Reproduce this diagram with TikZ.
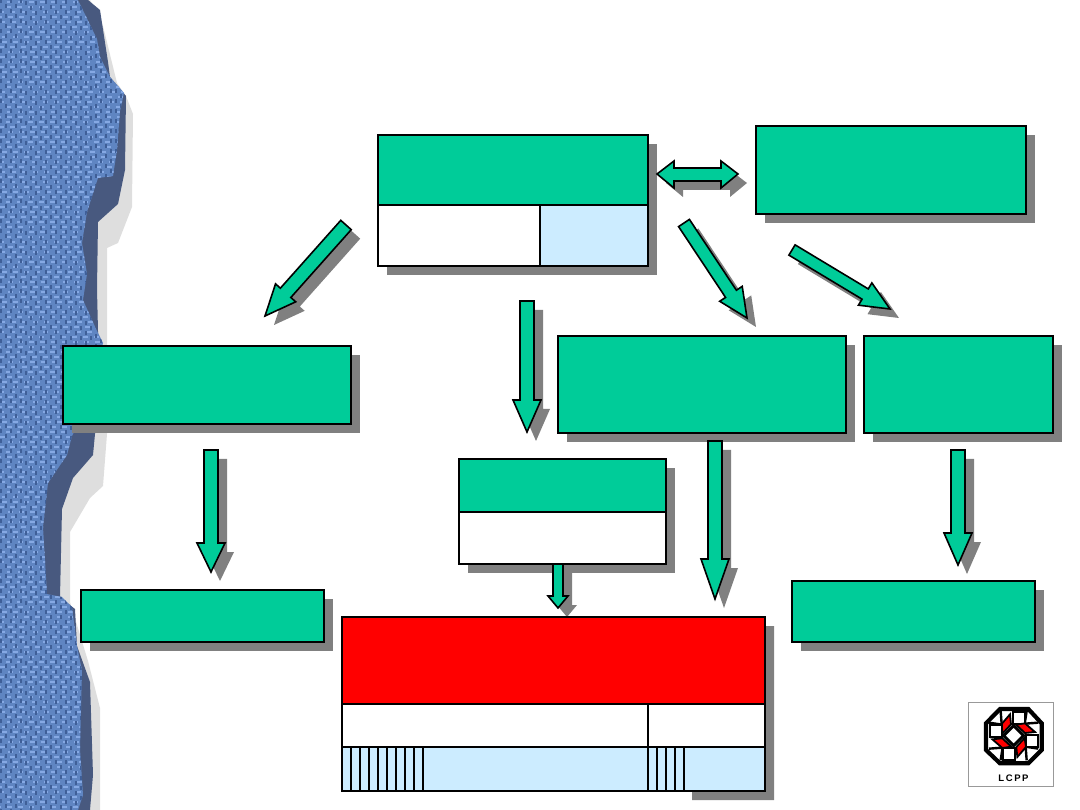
\documentclass[tikz,border=0pt]{standalone}
\usepackage{fontspec}
\setsansfont{Liberation Sans}
\usetikzlibrary{positioning, calc, shadows}

\definecolor{slidegreen}{HTML}{00CC99}
\definecolor{cellblue}{HTML}{CCECFF}
\definecolor{shadegray}{HTML}{808080}
\definecolor{papermid}{HTML}{5F85C2}
\definecolor{paperlight}{HTML}{86A9E4}
\definecolor{paperdark}{HTML}{3F5F98}
\definecolor{paperedge}{HTML}{48597F}
\definecolor{paperhalo}{HTML}{DEDEDE}

\newcommand{\bigarrow}[5]{
  \coordinate (hb) at ($(#2)!#5pt!(#1)$);
  \def\arrowpath{($(#1)!#3pt!90:(#2)$) -- ($(hb)!#3pt!90:(#2)$) -- ($(hb)!#4pt!90:(#2)$) -- (#2)
    -- ($(hb)!#4pt!-90:(#2)$) -- ($(hb)!#3pt!-90:(#2)$) -- ($(#1)!#3pt!-90:(#2)$) -- cycle}
  \fill[shadegray, transform canvas={xshift=9pt, yshift=-9pt}] \arrowpath;
  \draw[arrow line] \arrowpath;
}

\begin{document}
\begin{tikzpicture}[x=1pt, y=-1pt,
  box/.style={rectangle, draw, line width=1.9pt, inner sep=0pt, outer sep=0pt, anchor=north west},
  green box/.style={box, fill=slidegreen},
  white box/.style={box, fill=white},
  blue box/.style={box, fill=cellblue},
  shaded/.style={drop shadow={shadow xshift=9pt, shadow yshift=-9pt, fill=shadegray, opacity=1}},
  arrow line/.style={draw=black, fill=slidegreen, line width=1.6pt, line join=miter},
  thread/.style={line width=1.7pt, line cap=butt}]

\useasboundingbox (0,0) rectangle (1080,810);

% torn paper
\def\halopath{(90,0) -- (103,26) -- (117,83) -- (126,96) -- (133,114) -- (132,207) -- (118,243) -- (107,248)
  -- (107,341) -- (107,434) -- (103,486) -- (90,498) -- (70,532) -- (70,602) -- (88,661) -- (100,708) -- (100,810) -- (0,810) -- (0,0) -- cycle}
\def\edgepath{(88,0) -- (100,10) -- (108,62) -- (110,77) -- (126,96) -- (125,170) -- (118,204) -- (98,222)
  -- (97,289) -- (98,331) -- (100,380) -- (95,434) -- (93,455) -- (73,478) -- (62,509) -- (60,597)
  -- (75,609) -- (77,646) -- (90,682) -- (93,775) -- (90,810) -- (0,810) -- (0,0) -- cycle}
\def\bodypath{(78,0) -- (97,39) -- (100,57) -- (110,77) -- (124,93) -- (120,111) -- (117,150) -- (113,176)
  -- (98,178) -- (87,212) -- (82,243) -- (87,274) -- (83,300) -- (97,331) -- (103,343) -- (90,400)
  -- (72,436) -- (67,455) -- (48,483) -- (43,527) -- (47,594) -- (62,597) -- (72,607) -- (77,646)
  -- (82,671) -- (80,749) -- (83,795) -- (78,810) -- (0,810) -- (0,0) -- cycle}
\fill[paperhalo] \halopath;
\fill[paperedge] \edgepath;
\fill[papermid] \bodypath;
\begin{scope}
  \clip \bodypath;
  \foreach \y in {2,7,...,810} {
    \pgfmathsetmacro{\ph}{int(mod(mod(\y,23)*mod(\y,23),11))}
    \draw[thread, paperlight, dash pattern=on 5pt off 6pt, dash phase=\ph pt] (0,\y) -- (130,\y);
  }
  \foreach \x in {1,6,...,129} {
    \pgfmathsetmacro{\ph}{int(mod(mod(\x,23)*mod(\x,23),10))}
    \draw[thread, paperdark, dash pattern=on 4pt off 6pt, dash phase=\ph pt] (\x,0) -- (\x,810);
  }
\end{scope}

% boxes
\node[green box, shaded, minimum width=270pt, minimum height=131pt] (source) at (378,135) {};
\node[green box, minimum width=270pt, minimum height=70pt] (sourcetop) at (378,135) {};
\node[white box, minimum width=162pt, minimum height=61pt] (sourcel) at (sourcetop.south west) {};
\node[blue box, minimum width=108pt, minimum height=61pt] (sourcer) at (sourcel.north east) {};
\node[green box, shaded, minimum width=270pt, minimum height=88pt] (partner) at (756,126) {};
\node[green box, shaded, minimum width=288pt, minimum height=78pt] (leftbox) at (63,346) {};
\node[green box, shaded, minimum width=288pt, minimum height=97pt] (midbox) at (558,336) {};
\node[green box, shaded, minimum width=189pt, minimum height=97pt] (rightbox) at (864,336) {};
\node[white box, shaded, minimum width=207pt, minimum height=105pt] (inner) at (459,459) {};
\node[green box, minimum width=207pt, minimum height=53pt] (innertop) at (459,459) {};
\node[green box, shaded, minimum width=243pt, minimum height=52pt] (leftlow) at (81,590) {};
\node[green box, shaded, minimum width=243pt, minimum height=61pt] (rightlow) at (792,581) {};

% arrows
\coordinate (a1s) at (346,225);   \coordinate (a1e) at (265,316);
\coordinate (a2s) at (527,301);   \coordinate (a2e) at (527,432);
\coordinate (a3s) at (684,223);   \coordinate (a3e) at (747,318);
\coordinate (a4s) at (792,250);   \coordinate (a4e) at (890,309);
\coordinate (a5s) at (211,450);   \coordinate (a5e) at (211,572);
\coordinate (a6s) at (715,441);   \coordinate (a6e) at (715,599);
\coordinate (a7s) at (558,564);   \coordinate (a7e) at (558,608);
\coordinate (a8s) at (958,450);   \coordinate (a8e) at (958,565);
\bigarrow{a1s}{a1e}{7}{13.5}{31}
\bigarrow{a2s}{a2e}{7}{14}{32}
\bigarrow{a3s}{a3e}{6.5}{13.5}{29}
\bigarrow{a4s}{a4e}{6}{13}{29}
\bigarrow{a5s}{a5e}{7}{14}{29}
\bigarrow{a6s}{a6e}{7}{14}{40}
\bigarrow{a7s}{a7e}{5}{10}{12}
\bigarrow{a8s}{a8e}{7}{14}{32}

% two way arrow
\def\twoway{(657,174) -- (674,161) -- (674,168) -- (721,168) -- (721,161) -- (738,174) -- (721,188) -- (721,181) -- (674,181) -- (674,188) -- cycle}
\fill[shadegray, transform canvas={xshift=9pt, yshift=-9pt}] \twoway;
\draw[arrow line] \twoway;

% red table
\fill[shadegray] (700,626) rectangle (774,760) (692,760) rectangle (774,800);
\node[box, fill=red, minimum width=423pt, minimum height=87pt] (table) at (342,617) {};
\node[white box, minimum width=306pt, minimum height=43pt] (rowl) at (table.south west) {};
\node[white box, minimum width=117pt, minimum height=43pt] (rowr) at (rowl.north east) {};
\node[blue box, minimum width=306pt, minimum height=44pt] (celll) at (rowl.south west) {};
\node[blue box, minimum width=117pt, minimum height=44pt] (cellr) at (celll.north east) {};
\foreach \x in {351,360,...,423}
  \draw[line width=1.9pt] (\x,747) -- (\x,791);
\foreach \x in {657,666,675,684}
  \draw[line width=1.9pt] (\x,747) -- (\x,791);

% logo
\node[rectangle, draw=black!40, line width=0.6pt, inner sep=0pt, anchor=north west, minimum width=85pt, minimum height=84pt] (logo) at (968,702) {};
\begin{scope}[shift={(960,695)}, x=0.3333pt, y=-0.3333pt]
  \draw[fill=white, line width=4.2pt, line join=miter] (120,42) -- (205,42) -- (245,85) -- (245,165) -- (205,205) -- (120,205) -- (78,165) -- (78,85) -- cycle;
  \foreach \ang in {0,90,180,270} {
    \begin{scope}[rotate around={\ang:(161,122)}]
      \draw[line width=2.4pt] (122,48) -- (125,88) (200,48) -- (194,87);
      \draw[fill=white, line width=2.2pt] (158,50) -- (194,50) -- (194,86) -- (158,86) -- cycle;
      \draw[fill=red, line width=1.8pt] (150,58) -- (153,88) -- (128,115) -- (124,88) -- cycle;
    \end{scope}
  }
  \draw[fill=white, line width=3pt] (161,92) -- (191,122) -- (161,152) -- (131,122) -- cycle;
\end{scope}
\node[font=\sffamily\bfseries\fontsize{9.5}{10}\selectfont, inner sep=0pt] (logotext) at (1013.5,778) {L\,C\,P\,P};

\end{tikzpicture}
\end{document}
